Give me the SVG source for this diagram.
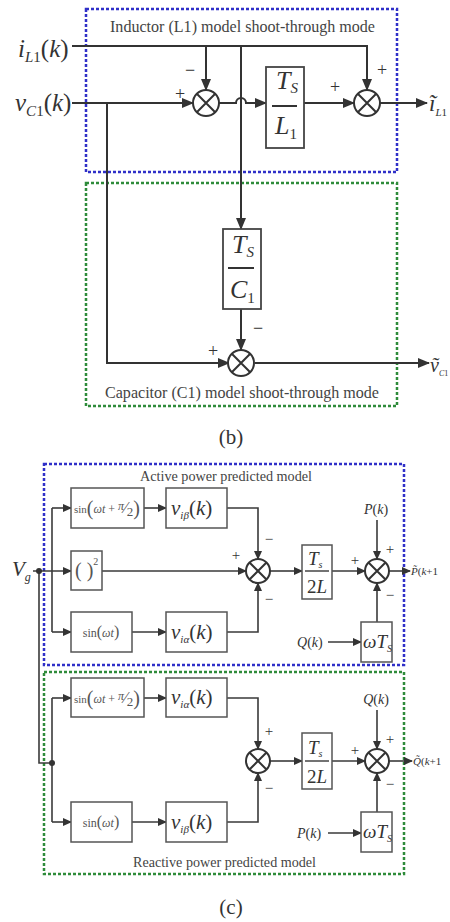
<svg xmlns="http://www.w3.org/2000/svg" width="450" height="922" viewBox="0 0 450 922">
<defs>
<style>
text{font-family:"Liberation Serif","Times New Roman",serif;fill:#333}
.it{font-style:italic}
.ln{stroke:#333;stroke-width:2;fill:none}
.ln2{stroke:#3a3a3a;stroke-width:1.6;fill:none}
.blk{fill:#fff;stroke:#444;stroke-width:1.8}
.blk2{fill:#fff;stroke:#555;stroke-width:1.5}
.sum circle{fill:#fff;stroke:#333;stroke-width:2}
.sum path{stroke:#333;stroke-width:2;fill:none}
.blue{fill:none;stroke:#2f2fc8;stroke-width:2.5;stroke-dasharray:3 2}
.green{fill:none;stroke:#2e8b3a;stroke-width:2.5;stroke-dasharray:3 2}
.title{fill:#444}
.sgn{font-size:18px;text-anchor:middle}
.sgn2{font-size:15px;text-anchor:middle}
.lbl2{fill:#555}
</style>
<marker id="a1" markerUnits="userSpaceOnUse" markerWidth="12" markerHeight="10" refX="11" refY="5" orient="auto"><path d="M0,0 L12,5 L0,10 z" fill="#333"/></marker>
<marker id="a2" markerUnits="userSpaceOnUse" markerWidth="9" markerHeight="8" refX="8" refY="4" orient="auto"><path d="M0,0 L9,4 L0,8 z" fill="#333"/></marker>
</defs>
<rect width="450" height="922" fill="#fff"/>

<!-- ===== (b) ===== -->
<g id="box-inductor">
<rect class="blue" x="86" y="9" width="311" height="163"/>
<text class="title" x="110" y="32" font-size="17" textLength="265" lengthAdjust="spacingAndGlyphs">Inductor (L1) model shoot-through mode</text>
</g>
<g id="box-capacitor">
<rect class="green" x="86" y="183" width="311" height="223"/>
<text class="title" x="105" y="398" font-size="17" textLength="274" lengthAdjust="spacingAndGlyphs">Capacitor (C1) model shoot-through mode</text>
</g>

<g id="connectors-b">
<path class="ln" d="M72,46 H367 V90" marker-end="url(#a1)"/>
<path class="ln" d="M206,46 V90" marker-end="url(#a1)"/>
<path class="ln" d="M241,46 V229" marker-end="url(#a1)"/>
<path class="ln" d="M72,103 H193" marker-end="url(#a1)"/>
<path class="ln" d="M107,103 V363 H229" marker-end="url(#a1)"/>
<path class="ln" d="M219,103 H236 A5,5 0 0 1 246,103 H266" marker-end="url(#a1)"/>
<path class="ln" d="M304,103 H354" marker-end="url(#a1)"/>
<path class="ln" d="M380,103 H427" marker-end="url(#a1)"/>
<path class="ln" d="M241,309 V350" marker-end="url(#a1)"/>
<path class="ln" d="M255,363 H429" marker-end="url(#a1)"/>
</g>

<g id="in-iL1">
<text x="18" y="57" font-size="25"><tspan class="it">i</tspan><tspan class="it" font-size="15" dy="5">L</tspan><tspan font-size="15">1</tspan><tspan dy="-5">(</tspan><tspan class="it">k</tspan>)</text>
</g>
<g id="in-vC1">
<text x="15" y="111" font-size="25"><tspan class="it">v</tspan><tspan class="it" font-size="15" dy="5">C</tspan><tspan font-size="15">1</tspan><tspan dy="-5">(</tspan><tspan class="it">k</tspan>)</text>
</g>

<g id="sum1" class="sum">
<circle cx="206" cy="103" r="13"/>
<path d="M196.8,93.8 L215.2,112.2 M215.2,93.8 L196.8,112.2"/>
<text class="sgn" x="190" y="76">−</text>
<text class="sgn" x="180" y="100">+</text>
</g>
<g id="blk-TsL1">
<rect class="blk" x="266" y="67" width="38" height="81"/>
<text x="276" y="89" font-size="26"><tspan class="it">T</tspan><tspan class="it" font-size="15" dy="4">S</tspan></text>
<line x1="272" y1="106" x2="297" y2="106" stroke="#333" stroke-width="2"/>
<text x="275" y="134" font-size="26"><tspan class="it">L</tspan><tspan font-size="15" dy="5">1</tspan></text>
</g>
<g id="sum2" class="sum">
<circle cx="367" cy="103" r="13"/>
<path d="M357.8,93.8 L376.2,112.2 M376.2,93.8 L357.8,112.2"/>
<text class="sgn" x="382" y="76">+</text>
<text class="sgn" x="335" y="93">+</text>
</g>
<g id="out-iL1">
<text x="429" y="111" font-size="23"><tspan class="it">ĩ</tspan><tspan class="it" font-size="11" dy="5">L</tspan><tspan font-size="11">1</tspan></text>
</g>

<g id="blk-TsC1">
<rect class="blk" x="223" y="229" width="38" height="80"/>
<text x="232" y="253" font-size="26"><tspan class="it">T</tspan><tspan class="it" font-size="15" dy="4">S</tspan></text>
<line x1="228" y1="268" x2="254" y2="268" stroke="#333" stroke-width="2"/>
<text x="230" y="298" font-size="26"><tspan class="it">C</tspan><tspan font-size="15" dy="5">1</tspan></text>
</g>
<g id="sum3" class="sum">
<circle cx="241" cy="363" r="13"/>
<path d="M231.8,353.8 L250.2,372.2 M250.2,353.8 L231.8,372.2"/>
<text class="sgn" x="258" y="334">−</text>
<text class="sgn" x="213" y="357">+</text>
</g>
<g id="out-vC1">
<text x="430" y="372" font-size="20"><tspan class="it">ṽ</tspan><tspan class="it" font-size="8" dy="4">C</tspan><tspan font-size="8">1</tspan></text>
</g>

<g id="caption-b"><text x="231" y="444" font-size="21" text-anchor="middle">(b)</text></g>

<!-- ===== (c) ===== -->
<g id="box-active">
<rect class="blue" x="44" y="464" width="360" height="201"/>
<text class="title" x="140" y="481" font-size="14" textLength="172" lengthAdjust="spacingAndGlyphs">Active power predicted model</text>
</g>
<g id="box-reactive">
<rect class="green" x="44" y="672" width="360" height="202"/>
<text class="title" x="133" y="867" font-size="14" textLength="183" lengthAdjust="spacingAndGlyphs">Reactive power predicted model</text>
</g>

<g id="connectors-c">
<path class="ln2" d="M33,571 H71" marker-end="url(#a2)"/>
<path class="ln2" d="M39,571 V763 H52"/>
<path class="ln2" d="M52,508 V632"/>
<path class="ln2" d="M52,508 H71" marker-end="url(#a2)"/>
<path class="ln2" d="M52,632 H71" marker-end="url(#a2)"/>
<path class="ln2" d="M144,508 H166" marker-end="url(#a2)"/>
<path class="ln2" d="M132,632 H166" marker-end="url(#a2)"/>
<path class="ln2" d="M227,508 H258 V559" marker-end="url(#a2)"/>
<path class="ln2" d="M102,571 H246" marker-end="url(#a2)"/>
<path class="ln2" d="M227,632 H258 V583" marker-end="url(#a2)"/>
<path class="ln2" d="M270,571 H302" marker-end="url(#a2)"/>
<path class="ln2" d="M332,571 H365" marker-end="url(#a2)"/>
<path class="ln2" d="M377,520 V559" marker-end="url(#a2)"/>
<path class="ln2" d="M389,571 H410" marker-end="url(#a2)"/>
<path class="ln2" d="M377,622 V583" marker-end="url(#a2)"/>
<path class="ln2" d="M328,642 H361" marker-end="url(#a2)"/>

<path class="ln2" d="M52,698 V822"/>
<path class="ln2" d="M52,698 H71" marker-end="url(#a2)"/>
<path class="ln2" d="M52,822 H71" marker-end="url(#a2)"/>
<path class="ln2" d="M144,698 H166" marker-end="url(#a2)"/>
<path class="ln2" d="M132,822 H166" marker-end="url(#a2)"/>
<path class="ln2" d="M227,698 H258 V749" marker-end="url(#a2)"/>
<path class="ln2" d="M227,822 H258 V773" marker-end="url(#a2)"/>
<path class="ln2" d="M270,761 H302" marker-end="url(#a2)"/>
<path class="ln2" d="M332,761 H365" marker-end="url(#a2)"/>
<path class="ln2" d="M377,710 V749" marker-end="url(#a2)"/>
<path class="ln2" d="M389,761 H412" marker-end="url(#a2)"/>
<path class="ln2" d="M377,812 V773" marker-end="url(#a2)"/>
<path class="ln2" d="M328,833 H361" marker-end="url(#a2)"/>
<circle cx="39" cy="571" r="3" fill="#333"/>
<circle cx="52" cy="763" r="3" fill="#333"/>
</g>

<g id="in-Vg">
<text x="12" y="576" font-size="21"><tspan class="it">V</tspan><tspan class="it" font-size="12" dy="5">g</tspan></text>
</g>

<g id="blk-sin-shift-a">
<rect class="blk2" x="71" y="488" width="73" height="40"/>
<text class="lbl2" x="74" y="513" font-size="11">sin<tspan font-size="20" dy="2">(</tspan><tspan class="it" font-size="12" dy="-2">ωt</tspan><tspan font-size="12"> + </tspan><tspan class="it" font-size="12" dy="-3">π</tspan><tspan font-size="16" dy="3">⁄</tspan><tspan font-size="13" dy="3">2</tspan><tspan font-size="20" dy="-1">)</tspan></text>
</g>
<g id="blk-vib-a">
<rect class="blk2" x="166" y="488" width="61" height="40"/>
<text x="171" y="515" font-size="21"><tspan class="it">v</tspan><tspan class="it" font-size="11" dy="4">iβ</tspan><tspan dy="-4">(</tspan><tspan class="it">k</tspan>)</text>
</g>
<g id="blk-square">
<rect class="blk2" x="71" y="551" width="31" height="39"/>
<text class="lbl2" x="75" y="577" font-size="20">( )<tspan font-size="10" dy="-12">2</tspan></text>
</g>
<g id="blk-sin-a">
<rect class="blk2" x="71" y="612" width="61" height="40"/>
<text class="lbl2" x="101" y="637" font-size="12" text-anchor="middle">sin<tspan font-size="16">(</tspan><tspan class="it">ωt</tspan><tspan font-size="16">)</tspan></text>
</g>
<g id="blk-via-a">
<rect class="blk2" x="166" y="612" width="61" height="40"/>
<text x="171" y="639" font-size="21"><tspan class="it">v</tspan><tspan class="it" font-size="11" dy="4">iα</tspan><tspan dy="-4">(</tspan><tspan class="it">k</tspan>)</text>
</g>
<g id="sumA" class="sum">
<circle cx="258" cy="571" r="12"/>
<path d="M249.5,562.5 L266.5,579.5 M266.5,562.5 L249.5,579.5"/>
<text class="sgn2" x="269" y="544">−</text>
<text class="sgn2" x="236" y="560">+</text>
<text class="sgn2" x="269" y="604">−</text>
</g>
<g id="blk-Ts2L-a">
<rect class="blk2" x="302" y="545" width="30" height="54"/>
<text x="308" y="565" font-size="19"><tspan class="it">T</tspan><tspan class="it" font-size="10" dy="3">s</tspan></text>
<line x1="305" y1="571" x2="329" y2="571" stroke="#444" stroke-width="1.5"/>
<text x="317" y="593" font-size="19" text-anchor="middle">2<tspan class="it">L</tspan></text>
</g>
<g id="sumB" class="sum">
<circle cx="377" cy="571" r="12"/>
<path d="M368.5,562.5 L385.5,579.5 M385.5,562.5 L368.5,579.5"/>
<text class="sgn2" x="390" y="554">+</text>
<text class="sgn2" x="355" y="565">+</text>
<text class="sgn2" x="390" y="600">−</text>
</g>
<g id="in-Pk-a"><text x="376" y="514" font-size="14" text-anchor="middle"><tspan class="it">P</tspan>(<tspan class="it">k</tspan>)</text></g>
<g id="blk-wTs-a">
<rect class="blk2" x="361" y="622" width="31" height="40"/>
<text x="363" y="648" font-size="19"><tspan class="it">ωT</tspan><tspan class="it" font-size="10" dy="4">S</tspan></text>
</g>
<g id="in-Qk-a"><text x="297" y="647" font-size="14"><tspan class="it">Q</tspan>(<tspan class="it">k</tspan>)</text></g>
<g id="out-P"><text x="411" y="575" font-size="11"><tspan class="it">P̃</tspan>(<tspan class="it">k</tspan>+1</text></g>

<g id="blk-sin-shift-r">
<rect class="blk2" x="71" y="678" width="73" height="39"/>
<text class="lbl2" x="74" y="703" font-size="11">sin<tspan font-size="20" dy="2">(</tspan><tspan class="it" font-size="12" dy="-2">ωt</tspan><tspan font-size="12"> + </tspan><tspan class="it" font-size="12" dy="-3">π</tspan><tspan font-size="16" dy="3">⁄</tspan><tspan font-size="13" dy="3">2</tspan><tspan font-size="20" dy="-1">)</tspan></text>
</g>
<g id="blk-via-r">
<rect class="blk2" x="166" y="678" width="61" height="39"/>
<text x="171" y="704" font-size="21"><tspan class="it">v</tspan><tspan class="it" font-size="11" dy="4">iα</tspan><tspan dy="-4">(</tspan><tspan class="it">k</tspan>)</text>
</g>
<g id="blk-sin-r">
<rect class="blk2" x="71" y="802" width="61" height="40"/>
<text class="lbl2" x="101" y="827" font-size="12" text-anchor="middle">sin<tspan font-size="16">(</tspan><tspan class="it">ωt</tspan><tspan font-size="16">)</tspan></text>
</g>
<g id="blk-vib-r">
<rect class="blk2" x="166" y="802" width="61" height="40"/>
<text x="171" y="829" font-size="21"><tspan class="it">v</tspan><tspan class="it" font-size="11" dy="4">iβ</tspan><tspan dy="-4">(</tspan><tspan class="it">k</tspan>)</text>
</g>
<g id="sumC" class="sum">
<circle cx="258" cy="761" r="12"/>
<path d="M249.5,752.5 L266.5,769.5 M266.5,752.5 L249.5,769.5"/>
<text class="sgn2" x="269" y="736">+</text>
<text class="sgn2" x="269" y="793">−</text>
</g>
<g id="blk-Ts2L-r">
<rect class="blk2" x="302" y="733" width="30" height="56"/>
<text x="308" y="754" font-size="19"><tspan class="it">T</tspan><tspan class="it" font-size="10" dy="3">s</tspan></text>
<line x1="305" y1="761" x2="329" y2="761" stroke="#444" stroke-width="1.5"/>
<text x="317" y="783" font-size="19" text-anchor="middle">2<tspan class="it">L</tspan></text>
</g>
<g id="sumD" class="sum">
<circle cx="377" cy="761" r="12"/>
<path d="M368.5,752.5 L385.5,769.5 M385.5,752.5 L368.5,769.5"/>
<text class="sgn2" x="390" y="744">+</text>
<text class="sgn2" x="355" y="755">+</text>
<text class="sgn2" x="390" y="789">−</text>
</g>
<g id="in-Qk-r"><text x="376" y="704" font-size="14" text-anchor="middle"><tspan class="it">Q</tspan>(<tspan class="it">k</tspan>)</text></g>
<g id="blk-wTs-r">
<rect class="blk2" x="361" y="812" width="31" height="40"/>
<text x="363" y="838" font-size="19"><tspan class="it">ωT</tspan><tspan class="it" font-size="10" dy="4">S</tspan></text>
</g>
<g id="in-Pk-r"><text x="297" y="838" font-size="14"><tspan class="it">P</tspan>(<tspan class="it">k</tspan>)</text></g>
<g id="out-Q"><text x="413" y="765" font-size="11"><tspan class="it">Q̃</tspan>(<tspan class="it">k</tspan>+1</text></g>

<g id="caption-c"><text x="231" y="914" font-size="21" text-anchor="middle">(c)</text></g>
</svg>
